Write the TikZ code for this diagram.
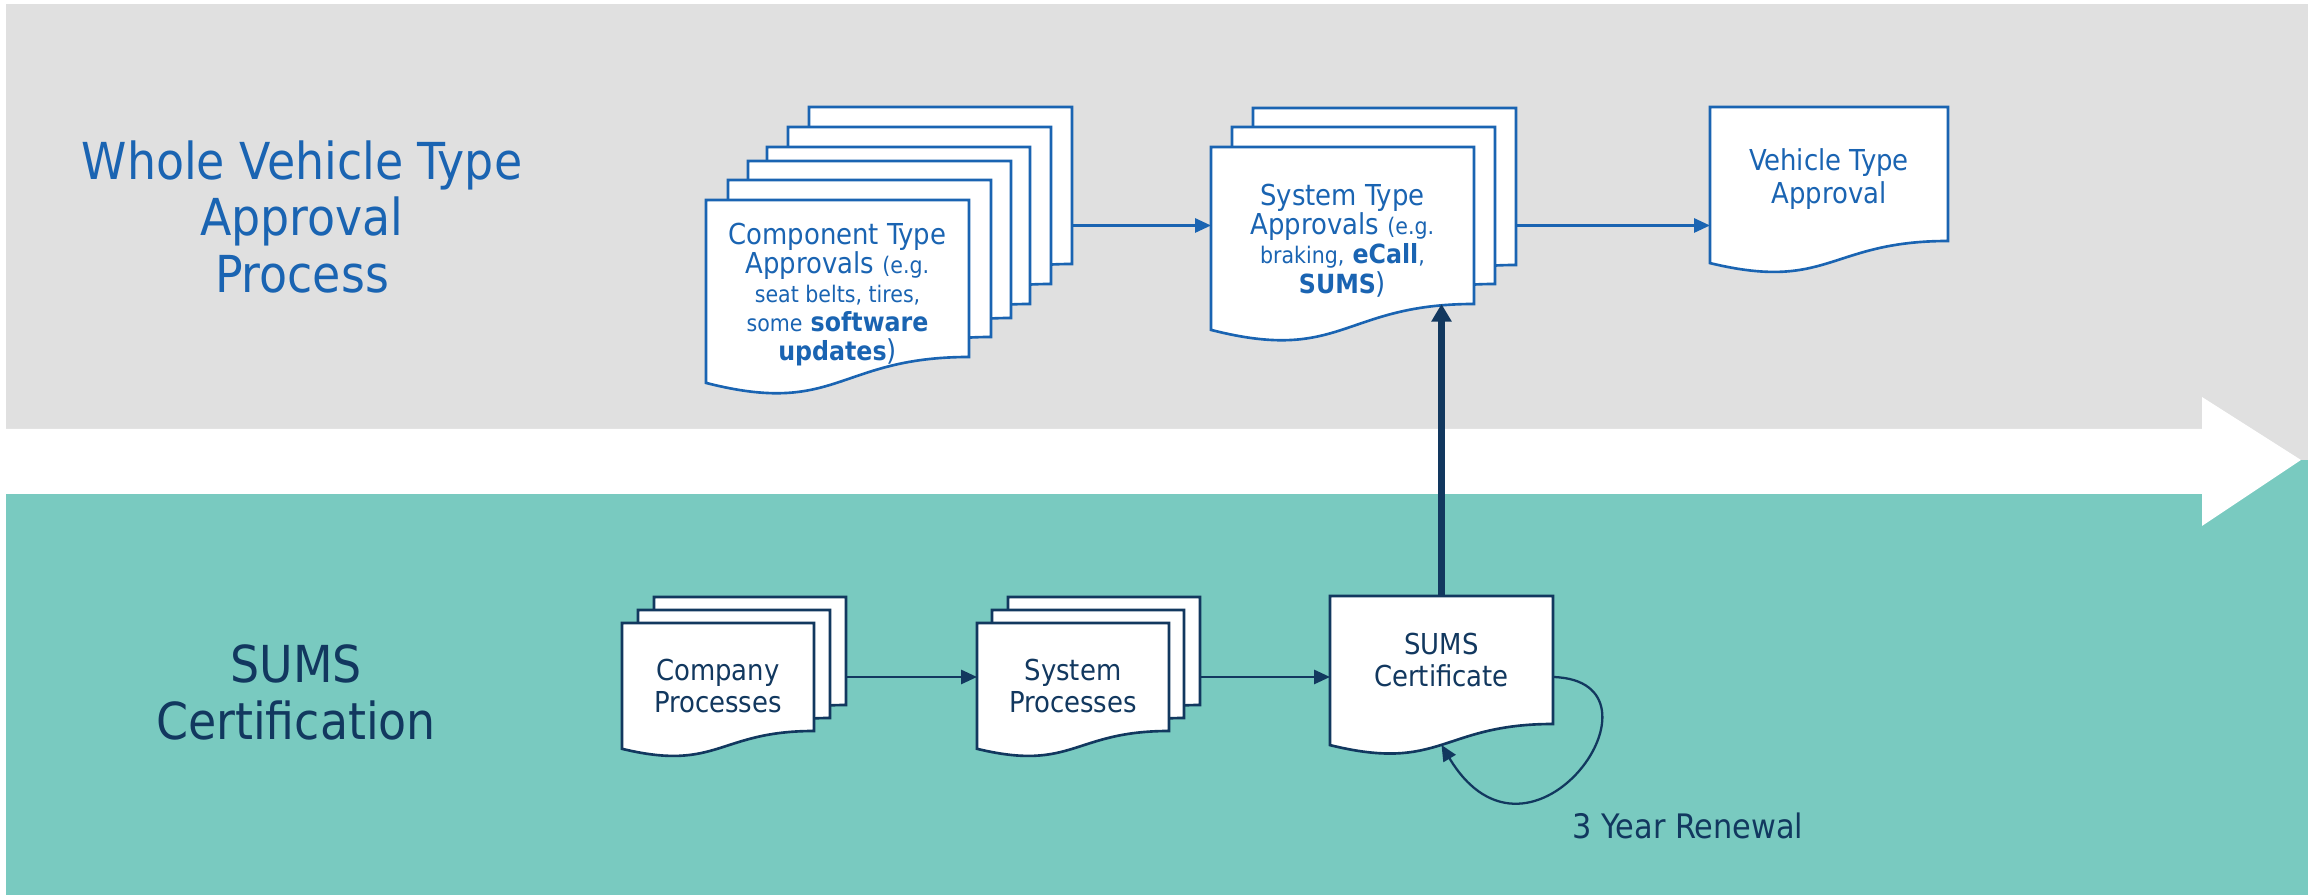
\documentclass[tikz,border=0pt]{standalone}
\usepackage{fontspec}
\setmainfont{DejaVu Sans Condensed}
\usetikzlibrary{arrows.meta, calc}
\definecolor{bandgray}{HTML}{E0E0E0}
\definecolor{bandteal}{HTML}{79CAC0}
\definecolor{tablue}{HTML}{1A64B2}
\definecolor{sumsnavy}{HTML}{12385F}

% small and bold runs inside the sheet texts
\newcommand{\fine}[1]{{\fontsize{6.5}{8.3}\selectfont #1}}
\newcommand{\boldpart}[1]{{\fontsize{7.5}{8.3}\selectfont\bfseries #1}}

% one document sheet: [edge style]{name}{top-left}{width}{flat height}
\newcommand{\docsheet}[5][blueedge]{%
  \draw[#1, shift={(#3)}] (0,0) -- (#4,0) -- (#4,-#5)
    .. controls (0.5*#4,-#5) and (0.5*#4,-1.380*#5) .. (0,-1.165*#5) -- cycle;
  \node[sheetbox, minimum width=#4cm, minimum height=#5cm] (#2) at (#3) {};
}

\begin{document}
\begin{tikzpicture}[
  sheetbox/.style={inner sep=0pt, outer sep=0pt, anchor=north west},
  blueedge/.style={draw=tablue, fill=white, line width=0.75pt},
  navyedge/.style={draw=sumsnavy, fill=white, line width=0.75pt},
  doctext/.style={inner sep=0pt, align=center, font=\fontsize{8.2}{9.2}\selectfont},
  title/.style={inner sep=0pt, align=center, font=\fontsize{14.5}{16.2}\selectfont},
  flowblue/.style={-{Triangle[length=4.5pt, width=4pt]}, tablue, line width=0.65pt},
  flownavy/.style={-{Triangle[length=4.5pt, width=4pt]}, sumsnavy, line width=0.65pt},
]
\useasboundingbox (0,0) rectangle (23.08,8.95);

% ══════════════════════════════════════════════════════
% Bands and the white process arrow
% ══════════════════════════════════════════════════════
\fill[bandgray] (0.06,4.35) rectangle (23.08,8.91);
\fill[bandteal] (0.06,0) rectangle (23.08,4.35);
\fill[white] (0,4.01) -- (22.02,4.01) -- (22.02,3.69) -- (23.01,4.35)
  -- (22.02,4.98) -- (22.02,4.66) -- (0,4.66) -- cycle;

% ══════════════════════════════════════════════════════
% Row titles
% ══════════════════════════════════════════════════════
\node[title, text=tablue] (wvta) at (3.02,6.78)
  {Whole Vehicle Type\\Approval\\Process};
\node[title, text=sumsnavy] (sumscert) at (2.96,2.03)
  {SUMS\\Certification};

% ══════════════════════════════════════════════════════
% Component type approvals (six stacked sheets)
% ══════════════════════════════════════════════════════
\docsheet{comp6}{8.09,7.88}{2.63}{1.57}
\docsheet{comp5}{7.88,7.68}{2.63}{1.57}
\docsheet{comp4}{7.67,7.48}{2.63}{1.57}
\docsheet{comp3}{7.48,7.34}{2.63}{1.57}
\docsheet{comp2}{7.28,7.15}{2.63}{1.57}
\docsheet{comp}{7.06,6.95}{2.63}{1.57}

\node[doctext, text=tablue, font=\fontsize{8.2}{8.3}\selectfont] (comptext)
  at ([yshift=-0.16cm]comp.center)
  {Component Type\\Approvals \fine{(e.g.}\\\fine{seat belts, tires,}\\
   \fine{some} \boldpart{software}\\\boldpart{updates})};

% ══════════════════════════════════════════════════════
% System type approvals (three stacked sheets)
% ══════════════════════════════════════════════════════
\docsheet{sys3}{12.53,7.87}{2.63}{1.57}
\docsheet{sys2}{12.32,7.68}{2.63}{1.57}
\docsheet{sys}{12.11,7.48}{2.63}{1.57}

\node[doctext, text=tablue, font=\fontsize{8.2}{8.3}\selectfont] (systext)
  at ([yshift=-0.15cm]sys.center)
  {System Type\\Approvals \fine{(e.g.}\\\fine{braking,} \boldpart{eCall}\fine{,}\\
   \boldpart{SUMS})};

% ══════════════════════════════════════════════════════
% Vehicle type approval
% ══════════════════════════════════════════════════════
\docsheet{veh}{17.10,7.88}{2.38}{1.34}
\node[doctext, text=tablue] (vehtext) at ([yshift=-0.05cm]veh.center)
  {Vehicle Type\\Approval};

% ══════════════════════════════════════════════════════
% SUMS row: company and system processes, certificate
% ══════════════════════════════════════════════════════
\docsheet[navyedge]{corp3}{6.54,2.98}{1.92}{1.08}
\docsheet[navyedge]{corp2}{6.38,2.85}{1.92}{1.08}
\docsheet[navyedge]{corp}{6.22,2.72}{1.92}{1.08}
\node[doctext, text=sumsnavy] (corptext) at ([yshift=-0.09cm]corp.center)
  {Company\\Processes};

\docsheet[navyedge]{proc3}{10.08,2.98}{1.92}{1.08}
\docsheet[navyedge]{proc2}{9.92,2.85}{1.92}{1.08}
\docsheet[navyedge]{proc}{9.77,2.72}{1.92}{1.08}
\node[doctext, text=sumsnavy] (proctext) at ([yshift=-0.09cm]proc.center)
  {System\\Processes};

\docsheet[navyedge]{cert}{13.30,2.99}{2.23}{1.28}
\node[doctext, text=sumsnavy] (certtext) at (cert.center) {SUMS\\Certificate};

% ══════════════════════════════════════════════════════
% Connectors
% ══════════════════════════════════════════════════════
\draw[flowblue] (comp6.east |- sys.west) -- (sys.west);
\draw[flowblue] (sys3.east |- sys.west) -- (veh.west |- sys.west);

\draw[flownavy] (corp3.east |- proc.west) -- (proc.west);
\draw[flownavy] (proc3.east |- proc.west) -- (cert.west |- proc.west);

% certificate feeds the system approvals
\draw[sumsnavy, line width=2pt, -{Triangle[length=5pt, width=5.5pt]}]
  (cert.north) -- (cert.north |- sys.south);

% renewal loop back into the certificate
\coordinate (certfoot) at ([yshift=-0.21cm]cert.south);
\draw[flownavy] (cert.east |- proc.west)
  .. controls ($(cert.east |- proc.west)+(1.27,-0.04)$) and ($(certfoot)+(0.9,-1.5)$)
  .. (certfoot);
\node[text=sumsnavy, font=\fontsize{9.6}{11}\selectfont] (renewal) at (16.88,0.69)
  {3 Year Renewal};

\end{tikzpicture}
\end{document}
